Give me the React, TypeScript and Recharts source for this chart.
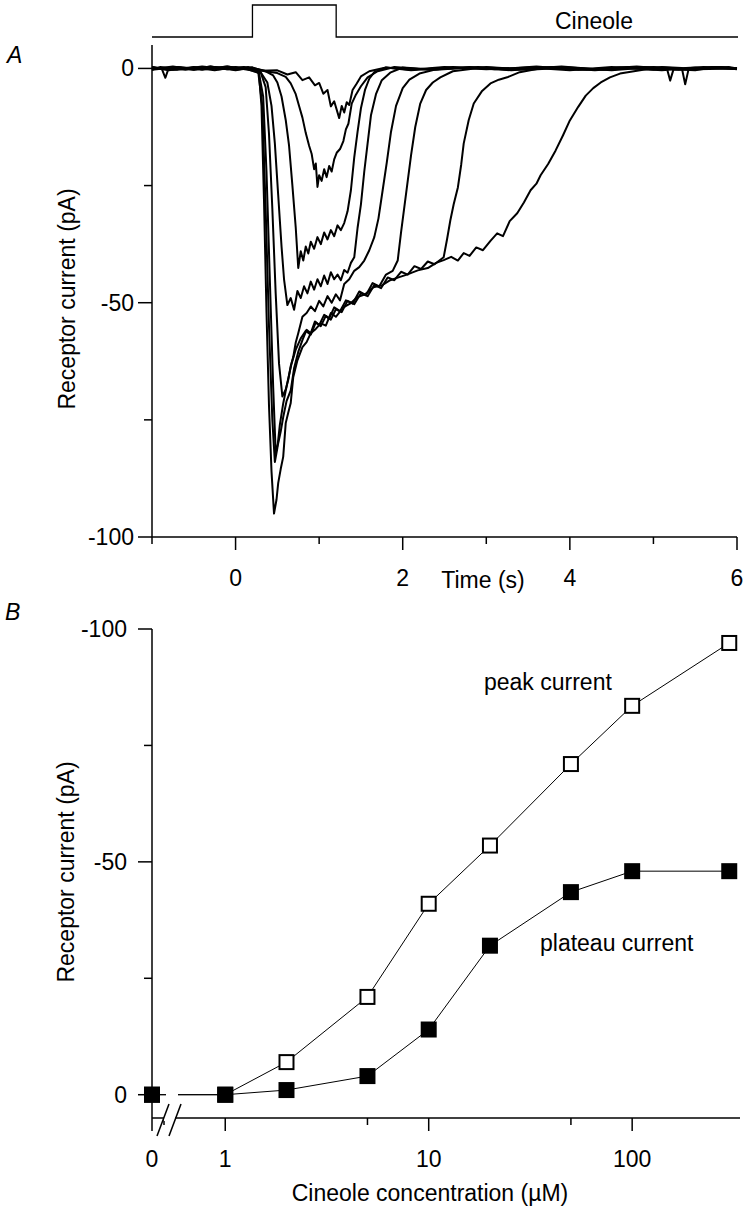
import React from 'react';
import { LineChart, Line, XAxis, YAxis } from 'recharts';

const FONT = '"Liberation Sans", Arial, Helvetica, sans-serif';
const FS = 23;

// stimulus bar above panel A (0 = off, 1 = cineole on)
const stimTimes = [-1, 0.2, 0.2, 1.2, 1.2, 6];
const stimLevel = [0, 0, 1, 1, 0, 0];

// panel A: receptor current traces, [time (s), current (pA)]
const trace2uM: [number, number][] = [
    [-1, 0.3], [-0.88, -0.2], [-0.84, -2.0], [-0.8, 0.1], [-0.7, 0.2], [-0.5, -0.3], [-0.3, 0.4], [-0.1, -0.2],
    [0.1, 0.1], [0.3, -0.5], [0.5, -0.4], [0.62, -1.3], [0.72, -0.8], [0.8, -2.5], [0.88, -1.9], [0.95, -3.6],
    [1.0, -3.1], [1.05, -5.4], [1.1, -4.6], [1.14, -8.1], [1.18, -7.0], [1.24, -10.6], [1.27, -8.0], [1.3, -9.4],
    [1.33, -7.2], [1.36, -7.8], [1.4, -4.6], [1.45, -3.2], [1.5, -1.7], [1.6, -0.6], [1.8, 0.2], [2.1, -0.3],
    [2.5, 0.3], [3.0, -0.2], [3.5, 0.2], [4.0, -0.4], [4.5, 0.3], [5.0, -0.3], [5.5, 0.2], [6, -0.1],
];
const trace5uM: [number, number][] = [
    [-1, -0.2], [-0.75, 0.4], [-0.5, -0.3], [-0.25, 0.3], [0, -0.4], [0.2, 0.2], [0.35, -0.6], [0.5, -1.0],
    [0.6, -1.8], [0.66, -3.2], [0.72, -5.5], [0.76, -8.0], [0.8, -10.5], [0.84, -13.8], [0.88, -16.5], [0.91, -18.2],
    [0.94, -21.5], [0.96, -20.3], [0.98, -25.3], [1.0, -22.8], [1.03, -24.0], [1.06, -21.5], [1.09, -23.2], [1.12, -20.8],
    [1.15, -22.0], [1.18, -19.4], [1.21, -18.0], [1.25, -17.2], [1.29, -15.5], [1.32, -13.0], [1.35, -11.8], [1.39, -7.5],
    [1.44, -5.6], [1.5, -3.8], [1.58, -1.9], [1.7, -0.6], [1.9, 0.3], [2.3, -0.3], [2.8, 0.2], [3.3, -0.4],
    [3.8, 0.3], [4.3, -0.2], [4.8, 0.4], [5.3, -0.3], [5.8, 0.2], [6, 0],
];
const trace10uM: [number, number][] = [
    [-1, 0.2], [-0.7, -0.3], [-0.4, 0.4], [-0.1, -0.2], [0.15, 0.3], [0.35, -0.5], [0.45, -1.5], [0.5, -3.0],
    [0.55, -6.0], [0.6, -11.0], [0.64, -16.5], [0.68, -25.0], [0.72, -34.0], [0.75, -42.6], [0.78, -39.0], [0.81, -41.0],
    [0.84, -38.0], [0.87, -39.5], [0.9, -37.0], [0.94, -38.5], [0.98, -36.0], [1.02, -37.5], [1.06, -35.0], [1.1, -36.5],
    [1.14, -34.5], [1.18, -35.8], [1.22, -33.5], [1.26, -34.5], [1.3, -33.0], [1.34, -30.5], [1.38, -26.0], [1.42, -19.0],
    [1.46, -13.5], [1.5, -8.5], [1.55, -4.5], [1.6, -2.2], [1.66, -0.8], [1.8, 0.2], [2.1, -0.4], [2.6, 0.3],
    [3.1, -0.2], [3.6, 0.4], [4.1, -0.3], [4.6, 0.2], [5.1, -0.4], [5.6, 0.3], [6, 0],
];
const trace20uM: [number, number][] = [
    [-1, -0.3], [-0.7, 0.3], [-0.4, -0.2], [-0.1, 0.4], [0.15, -0.3], [0.3, -0.8], [0.38, -3.0], [0.43, -8.0],
    [0.47, -16.0], [0.51, -27.0], [0.55, -38.0], [0.58, -45.0], [0.62, -50.5], [0.66, -49.0], [0.7, -51.5], [0.74, -47.5],
    [0.78, -49.0], [0.82, -46.5], [0.86, -48.0], [0.9, -45.5], [0.94, -47.2], [0.98, -45.0], [1.02, -46.5], [1.06, -44.2],
    [1.1, -46.0], [1.14, -43.5], [1.18, -45.0], [1.22, -44.0], [1.26, -45.2], [1.3, -43.0], [1.34, -43.6], [1.38, -41.5],
    [1.42, -40.3], [1.46, -34.0], [1.5, -29.0], [1.54, -22.0], [1.58, -16.0], [1.62, -10.0], [1.68, -5.5], [1.75, -2.5],
    [1.85, -0.9], [2.0, 0.2], [2.4, -0.3], [2.9, 0.3], [3.4, -0.2], [3.9, 0.4], [4.4, -0.3], [4.9, 0.2],
    [5.4, -0.2], [5.9, 0.3], [6, 0],
];
const trace50uM: [number, number][] = [
    [-1, 0.3], [-0.75, -0.3], [-0.5, 0.2], [-0.25, -0.4], [0, 0.3], [0.2, -0.2], [0.3, -0.8], [0.36, -4.0],
    [0.4, -14.0], [0.44, -30.0], [0.48, -48.0], [0.52, -63.0], [0.56, -70.0], [0.6, -68.5], [0.63, -66.5], [0.66, -63.5],
    [0.69, -61.6], [0.72, -58.5], [0.75, -56.5], [0.8, -53.0], [0.85, -52.2], [0.9, -50.8], [0.95, -51.8], [1.0, -49.6],
    [1.05, -50.8], [1.1, -48.6], [1.15, -50.0], [1.2, -48.2], [1.25, -49.5], [1.3, -46.0], [1.36, -45.0], [1.42, -43.2],
    [1.48, -42.4], [1.54, -41.0], [1.6, -38.8], [1.66, -36.0], [1.71, -32.0], [1.76, -26.0], [1.81, -20.0], [1.86, -13.5],
    [1.92, -8.0], [2.0, -4.2], [2.08, -2.4], [2.2, -1.1], [2.4, -0.2], [2.8, 0.3], [3.3, -0.3], [3.8, 0.2],
    [4.3, -0.4], [4.8, 0.3], [5.3, -0.2], [5.8, 0.3], [6, 0],
];
const trace100uM: [number, number][] = [
    [-1, -0.2], [-0.7, 0.3], [-0.4, -0.3], [-0.1, 0.4], [0.15, -0.2], [0.28, -1.0], [0.33, -6.0], [0.37, -22.0],
    [0.41, -45.0], [0.45, -68.0], [0.48, -82.0], [0.51, -80.0], [0.54, -77.5], [0.57, -74.4], [0.61, -71.0], [0.66, -68.7],
    [0.7, -64.0], [0.75, -60.5], [0.8, -58.0], [0.85, -55.8], [0.9, -56.5], [0.95, -54.0], [1.0, -54.8], [1.06, -52.6],
    [1.12, -53.4], [1.18, -51.0], [1.25, -51.8], [1.32, -49.5], [1.4, -50.2], [1.48, -47.6], [1.56, -48.4], [1.64, -45.8],
    [1.72, -46.5], [1.8, -44.0], [1.88, -43.2], [1.94, -41.0], [1.98, -35.0], [2.02, -29.5], [2.06, -24.0], [2.1, -18.5],
    [2.15, -12.5], [2.21, -7.5], [2.28, -4.6], [2.36, -3.0], [2.45, -1.9], [2.6, -0.6], [3.0, 0.3], [3.5, -0.3],
    [4.0, 0.2], [4.5, -0.4], [5.0, 0.3], [5.5, -0.2], [6, 0],
];
const trace200uM: [number, number][] = [
    [-1, 0.2], [-0.8, -0.4], [-0.5, 0.3], [-0.2, -0.2], [0.1, 0.3], [0.27, -0.6], [0.32, -8.0], [0.36, -30.0],
    [0.4, -55.0], [0.44, -75.0], [0.47, -84.0], [0.5, -81.0], [0.53, -76.0], [0.57, -71.5], [0.62, -67.0], [0.67, -63.0],
    [0.72, -60.0], [0.78, -57.6], [0.84, -56.0], [0.9, -56.8], [0.96, -54.2], [1.02, -55.0], [1.08, -52.8], [1.14, -53.6],
    [1.2, -51.4], [1.27, -52.0], [1.34, -49.6], [1.42, -50.3], [1.5, -48.0], [1.58, -48.6], [1.66, -46.2], [1.74, -46.9],
    [1.82, -44.6], [1.9, -45.2], [1.98, -43.4], [2.06, -44.0], [2.14, -42.2], [2.22, -42.8], [2.3, -41.2], [2.38, -41.8],
    [2.49, -40.3], [2.53, -36.5], [2.57, -32.4], [2.61, -29.0], [2.66, -25.4], [2.7, -20.5], [2.73, -16.0], [2.79, -11.0],
    [2.85, -7.5], [2.95, -4.8], [3.05, -3.2], [3.15, -2.4], [3.25, -1.9], [3.4, -0.8], [3.7, 0.2], [4.2, -0.3],
    [4.7, 0.3], [5.16, 0.1], [5.2, -2.6], [5.24, -0.2], [5.5, -0.4], [5.75, 0.3], [6, 0],
];
const trace300uM: [number, number][] = [
    [-1, -0.3], [-0.9, 0.3], [-0.6, -0.3], [-0.3, 0.4], [0, -0.3], [0.2, 0.2], [0.28, -1.0], [0.31, -8.0],
    [0.34, -28.0], [0.37, -52.0], [0.4, -72.0], [0.43, -86.0], [0.46, -95.0], [0.49, -92.0], [0.51, -88.5], [0.54, -85.5],
    [0.57, -82.9], [0.6, -75.7], [0.63, -73.5], [0.66, -71.4], [0.69, -65.9], [0.74, -62.3], [0.8, -59.5], [0.85, -58.4],
    [0.9, -56.5], [0.96, -55.6], [1.02, -54.4], [1.08, -54.9], [1.14, -52.2], [1.2, -53.0], [1.29, -51.0], [1.37, -50.2],
    [1.46, -48.8], [1.55, -48.2], [1.65, -46.7], [1.75, -46.3], [1.85, -45.2], [1.95, -44.6], [2.05, -44.0], [2.18, -43.1],
    [2.3, -42.6], [2.4, -41.5], [2.49, -40.9], [2.58, -40.2], [2.66, -41.0], [2.73, -39.4], [2.8, -40.0], [2.88, -38.2],
    [2.96, -38.8], [3.05, -36.8], [3.13, -35.2], [3.2, -35.8], [3.28, -32.6], [3.37, -30.9], [3.45, -28.6], [3.53, -26.0],
    [3.6, -24.6], [3.65, -22.8], [3.74, -20.4], [3.83, -17.5], [3.92, -14.2], [4.0, -11.1], [4.1, -8.2], [4.19, -5.8],
    [4.28, -4.2], [4.37, -3.0], [4.48, -1.9], [4.6, -1.1], [4.84, -0.4], [5.1, 0.3], [5.34, 0.1], [5.38, -3.4],
    [5.42, -0.2], [5.7, 0.3], [6, -0.2],
];
const traces = [trace2uM, trace5uM, trace10uM, trace20uM, trace50uM, trace100uM, trace200uM, trace300uM];

const timeTicks = [-1, 0, 1, 2, 3, 4, 5, 6];
const timeTickLabels = ['', '0', '', '2', '', '4', '', '6'];
const currentTicks = [-100, -75, -50, -25, 0];
const currentTickLabels = ['-100', '', '-50', '', '0'];

// panel B: dose-response (concentration in µM, current in pA)
const concentrations = [0, 1, 2, 5, 10, 20, 50, 100, 300];
const peakCurrent = [0, 0, -7, -21, -41, -53.5, -71, -83.5, -97];
const plateauCurrent = [0, 0, -1, -4, -14, -32, -43.5, -48, -48];
const BREAK_X = -0.36; // where "0" sits left of the axis break (log10 units)
const concTicks = [BREAK_X, Math.log10(0.5), 0, Math.log10(5), 1, Math.log10(50), 2];
const concTickLabels = ['0', '', '1', '', '10', '', '100'];

const stimRows = stimTimes.map((t, i) => ({ t, level: stimLevel[i] }));
const traceRows = traces.map(tr => tr.map(([t, i]) => ({ t, i })));
const doseRows = concentrations.map((c, k) => ({
    logC: c === 0 ? BREAK_X : Math.log10(c),
    peak: peakCurrent[k],
    plateau: plateauCurrent[k],
}));

const BottomTick = (props: any) => {
    const { x, y, index, labels } = props;
    const label = labels[index];
    return (
        <g>
            <line x1={x} y1={y} x2={x} y2={y + (label ? 13 : 7)} stroke="#000" strokeWidth={1.5} />
            {label ? (
                <text x={x} y={y + 49} textAnchor="middle" fontSize={FS} fontFamily={FONT} fill="#000">{label}</text>
            ) : null}
        </g>
    );
};

const LeftTick = (props: any) => {
    const { x, y, index, labels, gap } = props;
    const label = labels[index];
    return (
        <g>
            <line x1={x - (label ? 14 : 8)} y1={y} x2={x} y2={y} stroke="#000" strokeWidth={1.5} />
            {label ? (
                <text x={x - gap} y={y + 8} textAnchor="end" fontSize={FS} fontFamily={FONT} fill="#000">{label}</text>
            ) : null}
        </g>
    );
};

const OpenSquare = (props: any) => {
    const { cx, cy, index } = props;
    return <rect key={`o${index}`} x={cx - 7} y={cy - 7} width={14} height={14} fill="#fff" stroke="#000" strokeWidth={2} />;
};

const FilledSquare = (props: any) => {
    const { cx, cy, index } = props;
    return <rect key={`f${index}`} x={cx - 8} y={cy - 8} width={16} height={16} fill="#000" />;
};

const axisStyle = { stroke: '#000', strokeWidth: 1.5 };
const textStyle = { fontFamily: FONT, fontSize: FS, fill: '#000' };

const App: React.FC = () => (
    <div style={{ position: 'absolute', left: 0, top: 0, width: 745, height: 1213, background: '#fff' }}>
        {/* stimulus */}
        <div style={{ position: 'absolute', left: 0, top: 0 }}>
            <LineChart width={745} height={45} data={stimRows} margin={{ top: 5, right: 7, bottom: 8, left: 152 }}>
                <XAxis type="number" dataKey="t" domain={[-1, 6]} hide />
                <YAxis type="number" domain={[0, 1]} hide />
                <Line type="linear" dataKey="level" stroke="#000" strokeWidth={1.3} dot={false} activeDot={false} isAnimationActive={false} />
            </LineChart>
        </div>

        {/* panel A */}
        <div style={{ position: 'absolute', left: 0, top: 0 }}>
            <LineChart width={745} height={600} margin={{ top: 45, right: 8, bottom: 0, left: 0 }}>
                <XAxis type="number" dataKey="t" domain={[-1, 6]} ticks={timeTicks} interval={0} height={63}
                    axisLine={axisStyle} tickLine={false} tickSize={0} tickMargin={0}
                    tick={(p: any) => <BottomTick {...p} labels={timeTickLabels} />} />
                <YAxis type="number" dataKey="i" domain={[-100, 5]} ticks={currentTicks} interval={0} width={152}
                    axisLine={axisStyle} tickLine={false} tickSize={0} tickMargin={0}
                    tick={(p: any) => <LeftTick {...p} labels={currentTickLabels} gap={18} />} />
                {traceRows.map((rows, k) => (
                    <Line key={k} data={rows} type="linear" dataKey="i" stroke="#000" strokeWidth={2}
                        strokeLinejoin="round" dot={false} activeDot={false} isAnimationActive={false} />
                ))}
            </LineChart>
        </div>

        {/* panel B */}
        <div style={{ position: 'absolute', left: 0, top: 600 }}>
            <LineChart width={745} height={613} data={doseRows} margin={{ top: 29, right: 5, bottom: 0, left: 0 }}>
                <XAxis type="number" dataKey="logC" domain={[BREAK_X, 2.53]} ticks={concTicks} interval={0} height={95}
                    axisLine={axisStyle} tickLine={false} tickSize={0} tickMargin={0}
                    tick={(p: any) => <BottomTick {...p} labels={concTickLabels} />} />
                <YAxis type="number" domain={[-100, 5]} reversed ticks={currentTicks} interval={0} width={152}
                    axisLine={axisStyle} tickLine={false} tickSize={0} tickMargin={0}
                    tick={(p: any) => <LeftTick {...p} labels={currentTickLabels} gap={25} />} />
                <Line type="linear" dataKey="peak" stroke="#000" strokeWidth={1} dot={OpenSquare} activeDot={false} isAnimationActive={false} />
                <Line type="linear" dataKey="plateau" stroke="#000" strokeWidth={1} dot={FilledSquare} activeDot={false} isAnimationActive={false} />
            </LineChart>
        </div>

        {/* labels and axis break */}
        <svg width={745} height={1213} style={{ position: 'absolute', left: 0, top: 0, pointerEvents: 'none' }}>
            <text x={555} y={29} {...textStyle}>Cineole</text>
            <text x={7} y={63} {...textStyle} fontStyle="italic">A</text>
            <text x={5} y={620} {...textStyle} fontStyle="italic">B</text>
            <text x={483} y={588} {...textStyle} textAnchor="middle">Time (s)</text>
            <text transform="translate(75 299) rotate(-90)" {...textStyle} textAnchor="middle">Receptor current (pA)</text>
            <text transform="translate(74 872) rotate(-90)" {...textStyle} textAnchor="middle">Receptor current (pA)</text>
            <text x={430} y={1201} {...textStyle} textAnchor="middle">Cineole concentration (µM)</text>
            <text x={484} y={690} {...textStyle}>peak current</text>
            <text x={540} y={951} {...textStyle}>plateau current</text>
            <rect x={166} y={1090} width={12} height={8} fill="#fff" />
            <rect x={164} y={1115} width={11} height={6} fill="#fff" />
            <line x1={157} y1={1136} x2={169} y2={1104} stroke="#000" strokeWidth={1.5} />
            <line x1={169} y1={1136} x2={181} y2={1104} stroke="#000" strokeWidth={1.5} />
        </svg>
    </div>
);

export default App;
